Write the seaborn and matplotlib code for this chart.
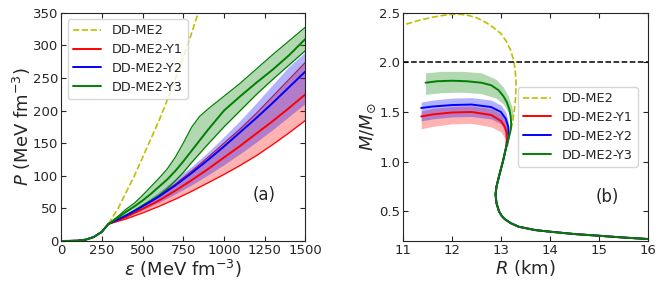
import numpy as np
import matplotlib
matplotlib.use('Agg')
import matplotlib.pyplot as plt
import seaborn as sns

sns.set_style('ticks')
plt.rcParams['font.family'] = ['DejaVu Sans']
plt.rcParams['xtick.direction'] = 'in'
plt.rcParams['ytick.direction'] = 'in'
plt.rcParams['xtick.top'] = True
plt.rcParams['ytick.right'] = True

# ---- panel (a): equation of state ----
eps_nuc = [0, 50, 100, 150, 200, 250, 290, 350, 400, 450, 500, 550, 600, 650, 700, 750, 800, 850, 900]
P_nuc = [0, 0.1, 0.5, 2, 6, 14, 26, 50, 75, 100, 128, 156, 184, 215, 248, 282, 318, 356, 392]

eps_low = [0, 50, 100, 150, 200, 250, 290]
P_low = [0, 0.1, 0.5, 2, 6, 14, 26]

eps_hyp = [290, 400, 500, 600, 700, 800, 900, 1000, 1100, 1200, 1300, 1400, 1500]
P_y1 = [26, 37, 49, 62, 77, 93, 110, 128, 146, 165, 184, 204, 225]
P_y1_lo = [26, 34, 43, 53, 64, 76, 89, 102, 116, 131, 148, 166, 185]
P_y1_hi = [26, 39, 53, 69, 87, 107, 128, 150, 172, 196, 222, 248, 274]
P_y2 = [26, 39, 53, 68, 85, 104, 124, 145, 167, 189, 212, 236, 260]
P_y2_lo = [26, 37, 48, 59, 72, 86, 101, 117, 134, 152, 171, 191, 211]
P_y2_hi = [26, 41, 57, 75, 95, 114, 136, 160, 185, 212, 240, 268, 290]

eps_y3 = [290, 350, 400, 450, 500, 550, 600, 650, 700, 750, 800, 850, 900, 1000, 1100, 1200, 1300, 1400, 1500]
P_y3 = [26, 36, 45, 53, 62, 72, 83, 94, 107, 122, 138, 154, 170, 200, 222, 243, 263, 285, 310]
P_y3_lo = [26, 33, 40, 47, 55, 62, 70, 80, 92, 105, 120, 134, 148, 175, 200, 225, 248, 270, 292]
P_y3_hi = [26, 38, 49, 58, 70, 83, 96, 110, 128, 150, 174, 191, 202, 222, 242, 264, 286, 307, 328]

# ---- panel (b): mass-radius ----
R_nuc = [10.9, 11.0, 11.3, 11.6, 11.9, 12.1, 12.3, 12.5, 12.7, 12.85, 13.0, 13.1, 13.2, 13.26,
         13.29, 13.31, 13.3, 13.27, 13.24]
M_nuc = [2.35, 2.376, 2.42, 2.455, 2.48, 2.487, 2.478, 2.45, 2.40, 2.35, 2.29, 2.22, 2.12, 2.02,
         1.93, 1.80, 1.65, 1.50, 1.40]

R_common = [13.2, 13.15, 13.1, 13.04, 12.97, 12.91, 12.89, 12.91, 12.96, 13.02, 13.08, 13.2,
            13.36, 13.7, 14.0, 14.5, 15.0, 15.5, 16.0, 16.1]
M_common = [1.32, 1.22, 1.13, 1.0, 0.87, 0.75, 0.67, 0.58, 0.5, 0.45, 0.42, 0.38,
            0.344, 0.31, 0.294, 0.27, 0.253, 0.235, 0.22, 0.218]

R_y1 = [11.37, 11.6, 12.0, 12.4, 12.8, 13.0, 13.08, 13.11, 13.12]
M_y1 = [1.455, 1.475, 1.495, 1.50, 1.47, 1.41, 1.35, 1.30, 1.22]
R_y2 = [11.37, 11.6, 12.0, 12.4, 12.8, 13.0, 13.1, 13.15, 13.16]
M_y2 = [1.54, 1.555, 1.57, 1.575, 1.55, 1.50, 1.43, 1.35, 1.25]
R_y3 = [11.46, 11.7, 12.0, 12.3, 12.6, 12.8, 12.95, 13.05, 13.12, 13.17, 13.2, 13.21]
M_y3 = [1.795, 1.81, 1.815, 1.81, 1.795, 1.77, 1.72, 1.66, 1.60, 1.53, 1.45, 1.38]

R_band12 = [11.37, 11.6, 12.0, 12.4, 12.8, 13.0, 13.1, 13.15]
M_y1_lo = [1.33, 1.355, 1.38, 1.385, 1.35, 1.30, 1.22, 1.15]
M_y1_hi = [1.51, 1.535, 1.555, 1.56, 1.535, 1.48, 1.40, 1.30]
M_y2_lo = [1.41, 1.43, 1.45, 1.455, 1.43, 1.38, 1.30, 1.20]
M_y2_hi = [1.60, 1.62, 1.64, 1.645, 1.62, 1.57, 1.50, 1.40]
R_band3 = [11.46, 11.8, 12.2, 12.6, 12.9, 13.05, 13.15, 13.22, 13.25]
M_y3_lo = [1.678, 1.695, 1.70, 1.685, 1.64, 1.58, 1.50, 1.43, 1.45]
M_y3_hi = [1.895, 1.91, 1.91, 1.895, 1.83, 1.75, 1.66, 1.56, 1.49]

labels = ['DD-ME2', 'DD-ME2-Y1', 'DD-ME2-Y2', 'DD-ME2-Y3']
colors = ['#bfbf00', 'red', 'blue', 'green']

fig = plt.figure(figsize=(6.64, 2.9), dpi=100)
ax1 = fig.add_axes([0.092, 0.169, 0.368, 0.787])
ax2 = fig.add_axes([0.607, 0.169, 0.3685, 0.787])

def line(ax, x, y, **kw):
    sns.lineplot(x=x, y=y, ax=ax, sort=False, estimator=None, **kw)

# (a)
line(ax1, eps_nuc, P_nuc, color=colors[0], linestyle='--', lw=1.2, label=labels[0])
ax1.fill_between(eps_hyp, P_y1_lo, P_y1_hi, color='red', alpha=0.3, lw=0)
ax1.fill_between(eps_hyp, P_y2_lo, P_y2_hi, color='blue', alpha=0.3, lw=0)
ax1.fill_between(eps_y3, P_y3_lo, P_y3_hi, color='green', alpha=0.3, lw=0)
line(ax1, eps_hyp, P_y1_lo, color='red', lw=0.9)
line(ax1, eps_hyp, P_y1_hi, color='#a0205a', lw=0.9)
line(ax1, eps_y3, P_y3_lo, color='green', lw=0.9)
line(ax1, eps_y3, P_y3_hi, color='green', lw=0.9)
line(ax1, eps_low + eps_hyp[1:], P_low + P_y1[1:], color='red', lw=1.4, label=labels[1])
line(ax1, eps_low + eps_hyp[1:], P_low + P_y2[1:], color='blue', lw=1.4, label=labels[2])
line(ax1, eps_low + eps_y3[1:], P_low + P_y3[1:], color='green', lw=1.4, label=labels[3])

ax1.set_xlim(0, 1500)
ax1.set_ylim(0, 350)
ax1.set_xticks([0, 250, 500, 750, 1000, 1250, 1500])
ax1.set_yticks(range(0, 351, 50))
ax1.set_xlabel(r'$\varepsilon$ (MeV fm$^{-3}$)', fontsize=13, labelpad=1)
ax1.set_ylabel(r'$P$ (MeV fm$^{-3}$)', fontsize=13, labelpad=0)
ax1.text(1245, 70, '(a)', fontsize=12, ha='center', va='center')
ax1.legend(loc='upper left', fontsize=9.3, handlelength=2.2, borderaxespad=0.5, labelspacing=0.45)

# (b)
line(ax2, R_nuc + R_common, M_nuc + M_common, color=colors[0], linestyle='--', lw=1.2, label=labels[0])
ax2.axhline(2.0, color='black', linestyle='--', lw=1.1)
ax2.fill_between(R_band12, M_y1_lo, M_y1_hi, color='red', alpha=0.3, lw=0)
ax2.fill_between(R_band12, M_y2_lo, M_y2_hi, color='blue', alpha=0.3, lw=0)
ax2.fill_between(R_band3, M_y3_lo, M_y3_hi, color='green', alpha=0.3, lw=0)
line(ax2, R_y1 + R_common[2:], M_y1 + M_common[2:], color='red', lw=1.4, label=labels[1])
line(ax2, R_y2 + R_common[2:], M_y2 + M_common[2:], color='blue', lw=1.4, label=labels[2])
line(ax2, R_y3 + R_common, M_y3 + M_common, color='green', lw=1.4, label=labels[3])

ax2.set_xlim(11, 16)
ax2.set_ylim(0.2, 2.5)
ax2.set_xticks(range(11, 17))
ax2.set_yticks([0.5, 1.0, 1.5, 2.0, 2.5])
ax2.set_xlabel(r'$R$ (km)', fontsize=13, labelpad=1)
ax2.set_ylabel(r'$M/M_{\odot}$', fontsize=13, labelpad=1)
ax2.text(15.17, 0.64, '(b)', fontsize=12, ha='center', va='center')
ax2.legend(loc='center right', bbox_to_anchor=(0.985, 0.5), fontsize=9.3, handlelength=2.2,
           labelspacing=0.45)

for ax in (ax1, ax2):
    ax.tick_params(labelsize=9.5, length=3.5, width=0.8, pad=2)
    for s in ax.spines.values():
        s.set_linewidth(0.8)

fig.savefig('out.png', dpi=100)
